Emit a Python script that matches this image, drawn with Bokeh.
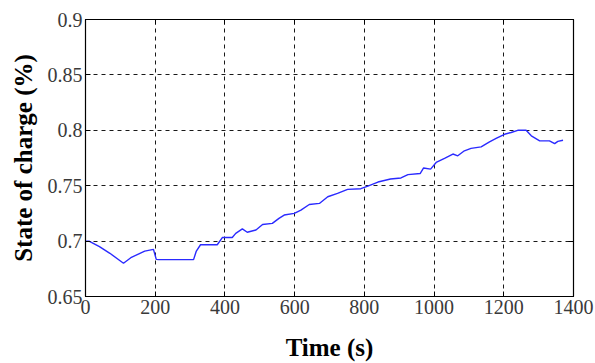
from bokeh.plotting import figure
from bokeh.models import LinearAxis, FixedTicker, Range1d
from bokeh.embed import file_html
from bokeh.resources import INLINE

time_s = [0, 10, 40, 70, 109, 130, 150, 170, 195, 203, 210, 260, 310, 318, 330, 378, 393, 421, 431, 450,
          464, 489, 508, 536, 555, 570, 599, 618, 642, 671, 695, 723, 752, 790, 810, 839, 875, 905,
          925, 960, 970, 990, 1006, 1030, 1054, 1068, 1087, 1106, 1135, 1159, 1178, 1202, 1221,
          1240, 1264, 1279, 1303, 1331, 1346, 1355, 1370]
soc = [0.700, 0.700, 0.695, 0.689, 0.680, 0.685, 0.688, 0.691, 0.6925, 0.6835, 0.6833, 0.6833, 0.6833,
       0.691, 0.6967, 0.6967, 0.7033, 0.7033, 0.707, 0.711,
       0.708, 0.710, 0.715, 0.716, 0.7205, 0.7235, 0.725, 0.728, 0.733, 0.734, 0.740, 0.743, 0.7467,
       0.7473, 0.7497, 0.7533, 0.756, 0.757, 0.760, 0.761, 0.766, 0.765, 0.771, 0.7747, 0.7786,
       0.777, 0.7815, 0.7837, 0.785, 0.7896, 0.7926, 0.7964, 0.798, 0.800, 0.800, 0.795, 0.7905,
       0.7905, 0.788, 0.790, 0.791]

x_ticks = [0, 200, 400, 600, 800, 1000, 1200, 1400]
y_ticks = [0.65, 0.7, 0.75, 0.8, 0.85, 0.9]
y_tick_labels = ["0.65", "0.7", "0.75", "0.8", "0.85", "0.9"]

FONT = "Liberation Serif"

p = figure(width=595, height=363, output_backend="svg", toolbar_location=None,
           x_range=Range1d(0, 1400), y_range=Range1d(0.65, 0.9),
           min_border_left=85, min_border_right=22, min_border_top=19, min_border_bottom=64)

p.line(time_s, soc, line_color="#2a2aff", line_width=1.4)

p.outline_line_color = "black"
p.outline_line_width = 1.2

for ax in [p.xaxis[0], p.yaxis[0]]:
    ax.major_tick_in = 5
    ax.major_tick_out = 0
    ax.minor_tick_in = 0
    ax.minor_tick_out = 0
    ax.axis_line_color = "black"
    ax.major_tick_line_color = "black"
    ax.major_label_text_font = "Times New Roman"
    ax.major_label_text_font_style = "normal"
    ax.major_label_text_font_size = "20px"
    ax.major_label_text_color = "#3a3a3a"
    ax.axis_label_text_font = FONT
    ax.axis_label_text_font_size = "25px"
    ax.axis_label_text_font_style = "bold"
    ax.axis_label_text_color = "black"

p.xaxis[0].ticker = FixedTicker(ticks=x_ticks)
p.yaxis[0].ticker = FixedTicker(ticks=y_ticks)
p.yaxis[0].major_label_overrides = dict(zip(y_ticks, y_tick_labels))
p.xaxis[0].axis_label = "Time (s)"
p.yaxis[0].axis_label = "State of charge (%)"
p.xaxis[0].major_label_standoff = 3
p.yaxis[0].major_label_standoff = 3
p.xaxis[0].axis_label_standoff = 17
p.yaxis[0].axis_label_standoff = 8

for loc, tk in [("right", y_ticks), ("above", x_ticks)]:
    a = LinearAxis(ticker=FixedTicker(ticks=tk),
                   major_label_overrides={t: "" for t in tk},
                   major_label_standoff=0,
                   major_tick_in=5, major_tick_out=0, minor_tick_in=0, minor_tick_out=0,
                   axis_line_color="black", major_tick_line_color="black")
    p.add_layout(a, loc)

p.min_border_right = 22
p.min_border_top = 19

p.xgrid.ticker = FixedTicker(ticks=x_ticks)
p.ygrid.ticker = FixedTicker(ticks=y_ticks)
for g in [p.xgrid[0], p.ygrid[0]]:
    g.grid_line_color = "black"
    g.grid_line_dash = "4 4"
    g.grid_line_width = 1
    g.grid_line_alpha = 0.9

open("out.html", "w").write(file_html(p, INLINE))
